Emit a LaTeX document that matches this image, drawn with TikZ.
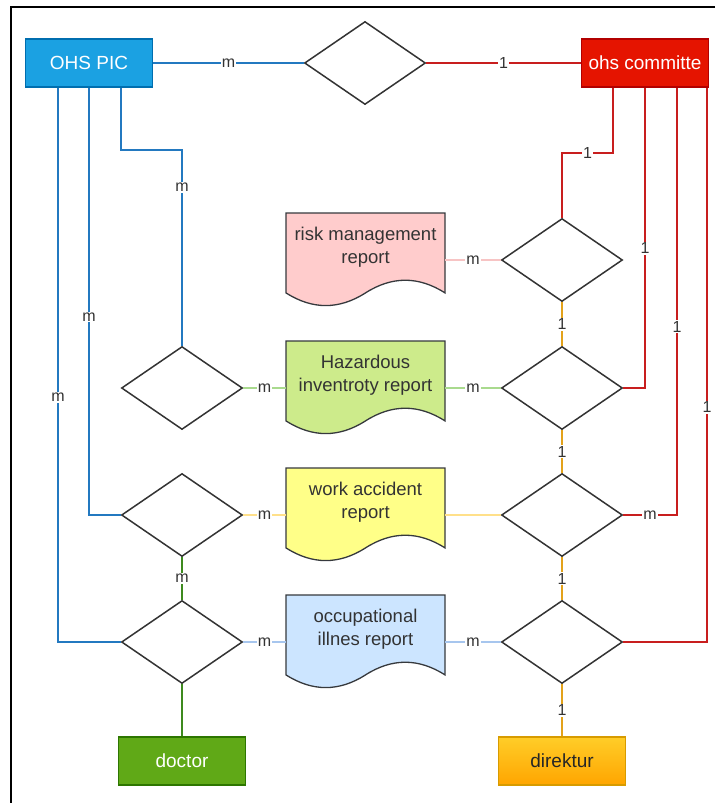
\documentclass[tikz,border=0pt]{standalone}
\usepackage{fontspec}
\setmainfont{Liberation Sans}
\usetikzlibrary{shapes.geometric}
\definecolor{picfill}{HTML}{1BA1E2}
\definecolor{picline}{HTML}{006EAF}
\definecolor{comfill}{HTML}{E51400}
\definecolor{comline}{HTML}{B20000}
\definecolor{docfill}{HTML}{60A917}
\definecolor{docline}{HTML}{2D7600}
\definecolor{dirtop}{HTML}{FFCD28}
\definecolor{dirbot}{HTML}{FFA500}
\definecolor{dirline}{HTML}{D79B00}
\definecolor{dgray}{HTML}{333333}
\definecolor{shapeline}{HTML}{36393D}
\definecolor{bluelink}{HTML}{2379C0}
\definecolor{redlink}{HTML}{C81E1E}
\definecolor{orangelink}{HTML}{E3A21A}
\definecolor{greenlink}{HTML}{3D8A1E}
\definecolor{pinklink}{HTML}{F7C4C4}
\definecolor{lgreenlink}{HTML}{A9DA8E}
\definecolor{lyellowlink}{HTML}{FFE08A}
\definecolor{lbluelink}{HTML}{A7C6EE}
\definecolor{pinkfill}{HTML}{FFCCCC}
\definecolor{greenfill}{HTML}{CDEB8B}
\definecolor{yellowfill}{HTML}{FFFF88}
\definecolor{bluefill}{HTML}{CCE5FF}
\tikzset{
  entity/.style={rectangle, minimum width=127pt, minimum height=48pt, inner sep=0pt, line width=1.2pt, font=\fontsize{19}{22}\selectfont},
  rel/.style={diamond, draw=dgray, fill=white, line width=1.5pt, minimum width=121pt, minimum height=83pt, inner sep=0pt},
  lbl/.style={fill=white, inner sep=1pt, text=dgray, font=\fontsize{16}{18}\selectfont},
  conn/.style={line width=1.5pt},
  docpath/.style={draw=shapeline, line width=1.3pt},
  docanchor/.style={rectangle, minimum width=159pt, minimum height=94pt, inner sep=0pt},
  doctext/.style={text=dgray, align=center, font=\fontsize{18.5}{23}\selectfont, inner sep=0pt}
}
\newcommand\docshape[4]{%
  \begin{scope}[shift={(286,#2)}]
    \draw[docpath, fill=#3] (0,0) -- (159,0) -- (159,79.9)
      .. controls (132.5,63) and (106,63) .. (79.5,79.9)
      .. controls (53,96.8) and (26.5,96.8) .. (0,79.9) -- cycle;
    \node[docanchor] (#1) at (79.5,47) {};
    \node[doctext] (#1-t) at (79.5,34) {#4};
  \end{scope}}
\begin{document}
\begin{tikzpicture}[x=1pt,y=-1pt]
\useasboundingbox (0,0) rectangle (715,803);
\draw[black, line width=1.5pt] (715,7) -- (11,7) -- (11,803);

% entities
\node[entity, fill=picfill, draw=picline, text=white] (pic) at (89,63) {OHS PIC};
\node[entity, fill=comfill, draw=comline, text=white] (com) at (645,63) {ohs committe};
\node[entity, fill=docfill, draw=docline, text=white] (doc) at (182,761) {doctor};
\node[entity, top color=dirtop, bottom color=dirbot, draw=dirline, text=black!85] (dir) at (562,761) {direktur};

% relationships
\node[rel] (dtop) at (365,63) {};
\node[rel] (drisk) at (562,260) {};
\node[rel] (dhr) at (562,388) {};
\node[rel] (dwr) at (562,515) {};
\node[rel] (dor) at (562,642) {};
\node[rel] (dhl) at (182,388) {};
\node[rel] (dwl) at (182,515) {};
\node[rel] (dol) at (182,642) {};

% documents
\docshape{risk}{213}{pinkfill}{risk management\\report}
\docshape{haz}{341}{greenfill}{Hazardous\\inventroty report}
\docshape{work}{468}{yellowfill}{work accident\\report}
\docshape{occ}{595}{bluefill}{occupational\\illnes report}

% top
\draw[conn, bluelink] (pic.east) -- node[lbl]{m} (dtop.west);
\draw[conn, redlink] (dtop.east) -- node[lbl]{1} (com.west);

% blue from OHS PIC
\draw[conn, bluelink] ([xshift=32pt]pic.south) -- (121,150) -- (182,150) -- node[lbl, pos=0.19]{m} (dhl.north);
\draw[conn, bluelink] (pic.south) -- node[lbl, pos=0.537]{m} (89,515) -- (dwl.west);
\draw[conn, bluelink] ([xshift=-31pt]pic.south) -- node[lbl, pos=0.559]{m} (58,642) -- (dol.west);

% red from ohs committe
\draw[conn, redlink] ([xshift=-32pt]com.south) -- (613,153) -- node[lbl]{1} (562,153) -- (drisk.north);
\draw[conn, redlink] (com.south) -- node[lbl, pos=0.535]{1} (645,388) -- (dhr.east);
\draw[conn, redlink] ([xshift=32pt]com.south) -- node[lbl, pos=0.56]{1} (677,515) -- node[lbl]{m} (dwr.east);
\draw[conn, redlink] ([xshift=62pt]com.south) -- node[lbl, pos=0.577]{1} (707,642) -- (dor.east);

% orange chain
\draw[conn, orangelink] (drisk.south) -- node[lbl]{1} (dhr.north);
\draw[conn, orangelink] (dhr.south) -- node[lbl]{1} (dwr.north);
\draw[conn, orangelink] (dwr.south) -- node[lbl]{1} (dor.north);
\draw[conn, orangelink] (dor.south) -- node[lbl]{1} (dir.north);

% green chain
\draw[conn, greenlink] (dwl.south) -- node[lbl]{m} (dol.north);
\draw[conn, greenlink] (dol.south) -- (doc.north);

% document links
\draw[conn, pinklink] (risk.east) -- node[lbl]{m} (drisk.west);
\draw[conn, lgreenlink] (dhl.east) -- node[lbl]{m} (haz.west);
\draw[conn, lgreenlink] (haz.east) -- node[lbl]{m} (dhr.west);
\draw[conn, lyellowlink] (dwl.east) -- node[lbl]{m} (work.west);
\draw[conn, lyellowlink] (work.east) -- (dwr.west);
\draw[conn, lbluelink] (dol.east) -- node[lbl]{m} (occ.west);
\draw[conn, lbluelink] (occ.east) -- node[lbl]{m} (dor.west);
\end{tikzpicture}
\end{document}
